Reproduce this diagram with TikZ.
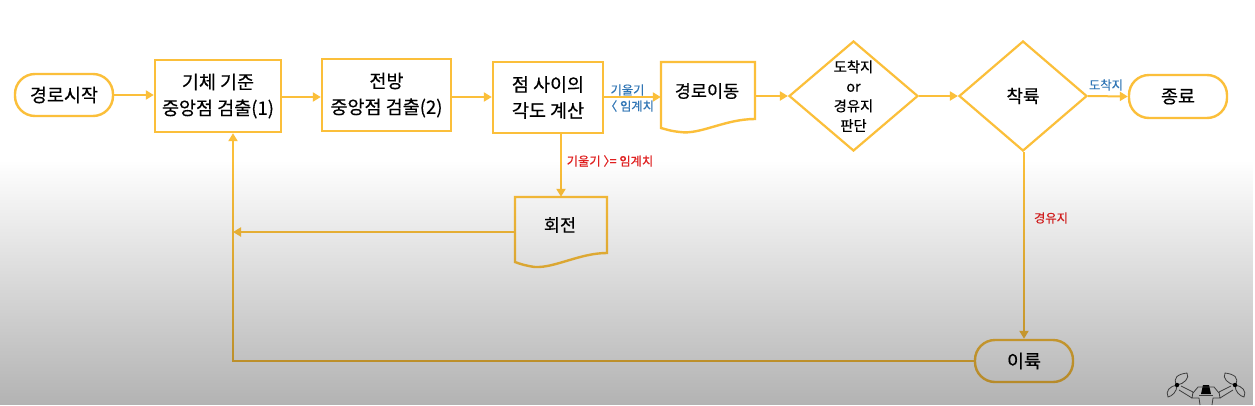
\documentclass[tikz,border=0pt]{standalone}
\usepackage{fontspec}
\setmainfont{Noto Sans CJK KR}[FakeBold=0.35]
\usetikzlibrary{shapes.geometric,arrows.meta,fadings}
\definecolor{gold}{HTML}{FBBF3A}
\definecolor{lblue}{HTML}{2F75B5}
\definecolor{lred}{HTML}{E02020}
\definecolor{iconc}{HTML}{555555}
\tikzfading[name=greyfall,top color=transparent!100,bottom color=transparent!70]
\tikzset{
 x=1pt,y=-1pt,
 box/.style={draw=gold,line width=2.4pt,fill=white,rectangle,inner sep=0pt,align=center,font=\fontsize{18.5}{26}\selectfont},
 term/.style={box,rounded corners=20pt},
 dia/.style={draw=gold,line width=2.2pt,fill=white,diamond,aspect=1.17,inner sep=0pt,align=center},
 hit/.style={rectangle,inner sep=0pt},
 doc/.style={draw=gold,line width=2.4pt,fill=white,line join=miter},
 txt/.style={font=\fontsize{17.5}{20}\selectfont,align=center},
 link/.style={draw=gold,line width=2pt,-{Triangle[length=8pt,width=9pt]}},
 blue/.style={text=lblue,font=\fontsize{12.3}{17}\selectfont,align=center,inner sep=0pt},
 red/.style={text=lred,font=\fontsize{12.3}{17}\selectfont,align=center,inner sep=0pt},
 ic/.style={draw=iconc,line width=.8pt,fill=none,line join=round},
}
\begin{document}
\begin{tikzpicture}
\useasboundingbox (0,0) rectangle (1255,405);
\fill[white] (0,0) rectangle (1255,405);

\coordinate (turn) at (233,360);
\coordinate (join) at (233,232);

\node[term,minimum width=98pt,minimum height=42pt] (start) at (64,95) {경로시작};
\node[box,minimum width=126pt,minimum height=72pt] (b1) at (218,96) {기체 기준\\중앙점 검출(1)};
\node[box,minimum width=129pt,minimum height=72pt] (b2) at (386.5,95) {전방\\중앙점 검출(2)};
\node[box,minimum width=110pt,minimum height=71pt] (b3) at (548,97.5) {점 사이의\\각도 계산};

\draw[doc] (661,62) -- (755,62) -- (755,119) .. controls (725,119) and (700,135) .. (680,132) .. controls (670,131) and (665,129) .. (661,128) -- cycle;
\node[hit,minimum width=94pt,minimum height=70pt] (mv) at (708,97) {};
\node[txt] (mvt) at (707,91) {경로이동};

\node[dia,minimum width=129pt,minimum height=110pt,font=\fontsize{14.3}{19.6}\selectfont] (d1) at (853.5,96) {도착지\\or\\경유지\\판단};
\node[dia,minimum width=128pt,minimum height=110pt,font=\fontsize{18}{20}\selectfont] (d2) at (1023,96) {착륙};
\node[term,minimum width=98pt,minimum height=43pt] (end) at (1178,96.5) {종료};

\draw[doc] (515,197) -- (607,197) -- (607,253) .. controls (580,253) and (555,268) .. (535,267) .. controls (527,266) and (520,264) .. (515,262) -- cycle;
\node[hit,minimum width=92pt,minimum height=70pt] (rot) at (561,232) {};
\node[txt] (rott) at (560,225) {회전};

\node[term,fill=none,minimum width=98pt,minimum height=42pt] (land) at (1024,361) {이륙};

\draw[link] (start.east) -- (b1.west |- start.east);
\draw[link] (b1.east |- 0,97) -- (b2.west |- 0,97);
\draw[link] (b2.east |- 0,97) -- (b3.west |- 0,97);
\draw[link] (b3.east |- mv.west) -- (mv.west);
\draw[link] (mv.east |- d1.west) -- (d1.west);
\draw[link] (d1.east) -- (d2.west);
\draw[link] (d2.east) -- (end.west);
\draw[link] (b3.south -| rot.north) -- (rot.north);
\draw[link] (rot.west) -- (join);
\draw[link] (d2.south -| land.north) -- (land.north);
\draw[link] (land.west) -- (land.west -| turn) -- (b1.south -| turn);

\node[blue] (l1) at (627.5,90) {기울기};
\node[blue] (l2) at (629.5,106) {〈 임계치};
\node[red] (l3) at (610,161) {기울기 〉\kern-6pt= 임계치};
\node[blue] (l4) at (1106,85) {도착지};
\node[red] (l5) at (1051,218) {경유지};

% drone icon
\fill[black] (1203,385) -- (1209,385) -- (1211,394) -- (1201,394) -- cycle;
\draw[ic] (1193,393) -- (1198,387) -- (1214,387) -- (1219,393);
\draw[ic] (1181,386) -- (1193,392) (1179,390) -- (1192,398);
\draw[ic] (1231,386) -- (1219,392) (1233,390) -- (1220,398);
\draw[ic] (1193,392) -- (1192,398) -- (1199,398) -- (1200,405);
\draw[ic] (1219,392) -- (1220,398) -- (1213,398) -- (1212,405);
\draw[ic] (1199,395) -- (1213,395);
\draw[ic] (1177,385) .. controls (1172,378) and (1178,374) .. (1187,373) .. controls (1190,378) and (1184,384) .. (1177,385);
\draw[ic] (1177,385) .. controls (1177,392) and (1172,396) .. (1168,397) .. controls (1165,391) and (1170,386) .. (1177,385);
\draw[ic] (1235,385) .. controls (1240,378) and (1234,374) .. (1225,373) .. controls (1222,378) and (1228,384) .. (1235,385);
\draw[ic] (1235,385) .. controls (1235,392) and (1240,396) .. (1244,397) .. controls (1247,391) and (1242,386) .. (1235,385);
\fill[black] (1177,385) circle (2.2pt) (1235,385) circle (2.2pt);

% grey veil over the lower part of the whole picture
\fill[black,path fading=greyfall] (0,160) rectangle (1255,405);
\end{tikzpicture}
\end{document}
